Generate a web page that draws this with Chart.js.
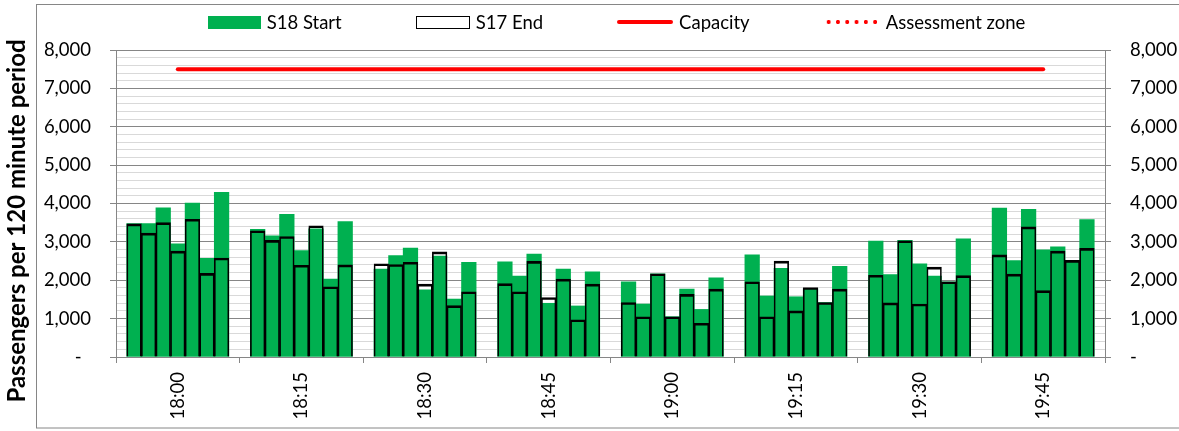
<!DOCTYPE html>
<html>
<head>
<meta charset="utf-8">
<script src="https://cdn.jsdelivr.net/npm/chart.js@4/dist/chart.umd.min.js"></script>
<style>
  body { margin: 0; background: #fff; }
  #wrap { position: relative; width: 1179px; height: 431px; }
  #legend {
    position: absolute; top: 10px; left: 54px; width: 1125px;
    display: flex; justify-content: center; gap: 74px;
    font: 18.5px Lato, sans-serif; line-height: 24px; color: #000;
  }
  #legend .item { display: flex; align-items: center; }
  #legend .swatch { display: inline-block; margin-right: 6px; }
  .swatch.green { width: 53px; height: 13px; background: #00b050; }
  .swatch.outline { width: 52px; height: 11px; background: #fff; border: 1px solid #000; }
  .swatch.line { width: 56px; height: 4px; background: #ff0000; border-radius: 2px; }
  .swatch.dots { width: 56px; height: 4px;
    background: radial-gradient(circle, #ff0000 1.8px, transparent 2.3px) 0 0 / 9.3px 4px repeat-x; }
</style>
</head>
<body>
<div id="wrap">
  <canvas id="chart" width="1179" height="431"></canvas>
  <div id="legend"></div>
</div>
<script>
// 15-minute groups, seven bars in each
const groupLabels = ["18:00", "18:15", "18:30", "18:45", "19:00", "19:15", "19:30", "19:45"];

const s18Start = [
  3480, 3480, 3890, 2950, 4010, 2570, 4290,
  3330, 3160, 3720, 2770, 3340, 2030, 3530,
  2290, 2640, 2840, 1750, 2630, 1510, 2470,
  2480, 2110, 2680, 1400, 2290, 1330, 2220,
  1960, 1380, 2170, 1050, 1770, 1240, 2060,
  2660, 1590, 2310, 1570, 1780, 1420, 2360,
  3020, 2150, 3040, 2430, 2110, 1960, 3080,
  3880, 2510, 3850, 2790, 2870, 2500, 3580
];

const s17End = [
  3470, 3230, 3500, 2760, 3590, 2180, 2580,
  3290, 3040, 3140, 2390, 3420, 1830, 2400,
  2430, 2410, 2470, 1900, 2740, 1340, 1700,
  1910, 1700, 2490, 1550, 2030, 970, 1900,
  1420, 1050, 2170, 1050, 1630, 880, 1770,
  1960, 1050, 2500, 1200, 1810, 1420, 1770,
  2130, 1410, 3030, 1380, 2340, 1960, 2120,
  2660, 2160, 3390, 1730, 2760, 2520, 2830
];

const capacity = [7500, 7500, 7500, 7500, 7500, 7500, 7500, 7500];
const assessmentZone = [];

const Y_MAX = 8000;
const Y_MAJOR = 1000;
const Y_MINOR = 200;

const GREEN = "#00b050";
const RED = "#ff0000";
const AXIS_GREY = "#868686";
const MINOR_GREY = "#d9d9d9";
const NONE = "rgba(0,0,0,0)";

// bar centre inside its group (x axis runs 0..8, one unit per group)
const BARS_PER_GROUP = 7;
const BAR_STEP = 0.118;
function barX(i) {
  const g = Math.floor(i / BARS_PER_GROUP);
  const k = i % BARS_PER_GROUP;
  return g + 0.5 + (k - (BARS_PER_GROUP - 1) / 2) * BAR_STEP;
}
const barPoints = arr => arr.map((v, i) => ({ x: barX(i), y: v }));
const groupPoints = arr => arr.map((v, g) => ({ x: g + 0.5, y: v }));

const fmt = v => v.toLocaleString("en-US");
const isMajor = v => v % Y_MAJOR === 0;
const tickVal = c => (c.tick ? c.tick.value : 0);

const barCommon = {
  type: "bar",
  grouped: false,
  barPercentage: 1,
  categoryPercentage: 1,
  yAxisID: "y"
};

// frame round the chart + rotated y title
const decor = {
  id: "decor",
  beforeDraw(chart) {
    const ctx = chart.ctx;
    ctx.save();
    ctx.strokeStyle = AXIS_GREY;
    ctx.lineWidth = 1;
    ctx.strokeRect(36.5, 4.5, 1200, 423.5);
    ctx.restore();
  },
  afterDraw(chart) {
    const ctx = chart.ctx;
    ctx.save();
    ctx.translate(17, 221);
    ctx.rotate(-Math.PI / 2);
    ctx.font = "bold 24px Lato";
    ctx.fillStyle = "#000";
    ctx.textAlign = "center";
    ctx.textBaseline = "middle";
    ctx.fillText("Passengers per 120 minute period", 0, 0);
    ctx.restore();
  }
};

Chart.defaults.font.family = "Lato";
Chart.defaults.font.size = 18.5;
Chart.defaults.color = "#000";

const chart = new Chart(document.getElementById("chart"), {
  data: {
    datasets: [
      { ...barCommon, label: "S17 End base", data: barPoints(s17End),
        backgroundColor: "#ffffff", borderWidth: 0, order: 3 },
      { ...barCommon, label: "S18 Start", swatch: "green", data: barPoints(s18Start),
        backgroundColor: GREEN, borderWidth: 0, order: 2 },
      { ...barCommon, label: "S17 End", swatch: "outline", data: barPoints(s17End),
        backgroundColor: NONE, borderColor: "#000",
        borderWidth: { top: 2, left: 1, right: 1, bottom: 1 }, order: 1 },
      { type: "line", label: "Capacity", swatch: "line", data: groupPoints(capacity),
        borderColor: RED, borderWidth: 4, borderCapStyle: "round",
        pointRadius: 0, yAxisID: "y", order: 0 },
      { type: "line", label: "Assessment zone", swatch: "dots", data: assessmentZone,
        borderColor: RED, borderWidth: 4, borderDash: [0.5, 8], borderCapStyle: "round",
        pointRadius: 0, yAxisID: "y", order: 0 }
    ]
  },
  options: {
    responsive: false,
    animation: false,
    layout: { padding: { top: 50, left: 0, right: 0, bottom: 0 } },
    plugins: { legend: { display: false }, tooltip: { enabled: false } },
    scales: {
      x: {
        type: "linear",
        offset: false,
        min: 0,
        max: groupLabels.length,
        afterBuildTicks: s => {
          s.ticks = [];
          for (let v = 0; v <= groupLabels.length; v += 0.5) s.ticks.push({ value: v });
        },
        afterFit: s => { s.height = 74; },
        ticks: {
          autoSkip: false,
          minRotation: 90,
          maxRotation: 90,
          padding: 9,
          callback: v => Number.isInteger(v) ? "" : groupLabels[Math.floor(v)]
        },
        grid: {
          offset: false,
          drawOnChartArea: false,
          tickLength: 6,
          color: AXIS_GREY,
          tickColor: c => Number.isInteger(tickVal(c)) ? AXIS_GREY : NONE
        },
        border: { color: AXIS_GREY }
      },
      y: {
        position: "left",
        min: 0,
        max: Y_MAX,
        afterFit: s => { s.width = 116; },
        ticks: {
          stepSize: Y_MINOR,
          autoSkip: false,
          padding: 19,
          callback: v => isMajor(v) ? (v === 0 ? "-  " : fmt(v)) : ""
        },
        grid: {
          tickLength: 6,
          color: c => isMajor(tickVal(c)) ? AXIS_GREY : MINOR_GREY,
          tickColor: c => isMajor(tickVal(c)) ? AXIS_GREY : NONE
        },
        border: { color: AXIS_GREY }
      },
      y2: {
        position: "right",
        min: 0,
        max: Y_MAX,
        afterFit: s => { s.width = 74; },
        ticks: {
          stepSize: Y_MINOR,
          autoSkip: false,
          padding: 19,
          callback: v => isMajor(v) ? (v === 0 ? "-" : fmt(v)) : ""
        },
        grid: {
          drawOnChartArea: false,
          tickLength: 6,
          color: AXIS_GREY,
          tickColor: c => isMajor(tickVal(c)) ? AXIS_GREY : NONE
        },
        border: { color: AXIS_GREY }
      }
    }
  },
  plugins: [decor]
});

// legend row above the plot, built from the datasets
function buildLegend(chart) {
  const box = document.getElementById("legend");
  box.innerHTML = "";
  chart.data.datasets.forEach(ds => {
    if (!ds.swatch) return;
    const item = document.createElement("div");
    item.className = "item";
    const sw = document.createElement("span");
    sw.className = "swatch " + ds.swatch;
    const txt = document.createElement("span");
    txt.textContent = ds.label;
    item.append(sw, txt);
    box.appendChild(item);
  });
}
buildLegend(chart);
</script>
</body>
</html>
